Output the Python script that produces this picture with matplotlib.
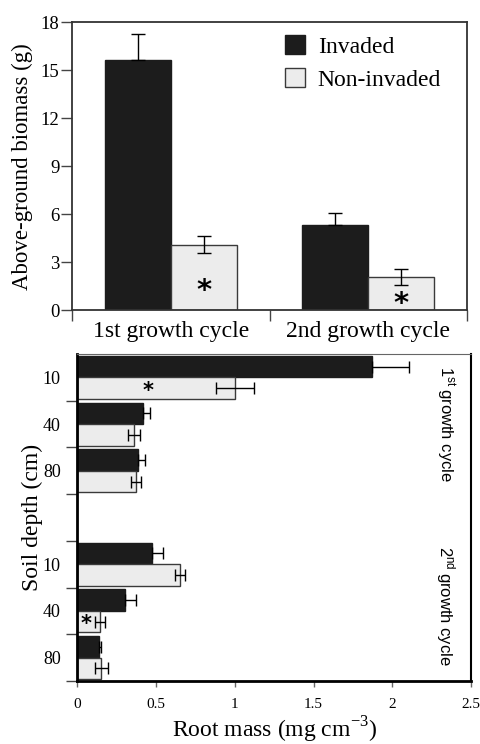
import numpy as np
import matplotlib
matplotlib.use("Agg")
import matplotlib.pyplot as plt

plt.rcParams['font.family'] = ['Liberation Serif', 'DejaVu Serif']
plt.rcParams['mathtext.fontset'] = 'custom'
plt.rcParams['mathtext.rm'] = 'Liberation Serif'
plt.rcParams['mathtext.sf'] = 'Liberation Sans'

# above-ground biomass (g), mean and SE per growth cycle
cycles = ['1st growth cycle', '2nd growth cycle']
agb_inv = [15.67, 5.35]
agb_inv_se = [1.6, 0.75]
agb_non = [4.1, 2.08]
agb_non_se = [0.52, 0.48]

# root mass (mg cm-3) by soil depth
depths = ['10', '40', '80']
root_inv_c1 = [1.87, 0.414, 0.382]
root_inv_c1_se = [0.235, 0.05, 0.05]
root_non_c1 = [1.0, 0.36, 0.373]
root_non_c1_se = [0.12, 0.04, 0.033]
root_inv_c2 = [0.475, 0.304, 0.137]
root_inv_c2_se = [0.07, 0.07, 0.01]
root_non_c2 = [0.652, 0.144, 0.152]
root_non_c2_se = [0.032, 0.032, 0.04]

dark = '#1c1c1c'
light = '#ececec'
edge = '#3a3a3a'

fig = plt.figure(figsize=(4.81, 7.44), dpi=100)

# ---- top panel ----
ax1 = fig.add_axes([0.150, 0.583, 0.821, 0.387])
centers = np.array([0.5, 1.5])
w = 0.335
ekw = dict(elinewidth=1, ecolor='black', capthick=1)
# invaded bars only show the upper half of the error bar
ax1.bar(centers - w/2, agb_inv, w, yerr=[np.zeros(2), agb_inv_se], color=dark,
        edgecolor=dark, linewidth=1, capsize=5, error_kw=ekw, label='Invaded', zorder=2)
ax1.bar(centers + w/2, agb_non, w, yerr=agb_non_se, color=light, edgecolor=edge,
        linewidth=1, capsize=5, error_kw=ekw, label='Non-invaded', zorder=2)
ax1.text(centers[0] + w/2, 1.2, '*', ha='center', va='center', fontsize=21,
         fontweight='bold', family='DejaVu Sans')
ax1.text(centers[1] + w/2, 0.38, '*', ha='center', va='center', fontsize=21,
         fontweight='bold', family='DejaVu Sans')
ax1.set_xlim(0, 2)
ax1.set_ylim(0, 18)
ax1.set_yticks(np.arange(0, 19, 3))
ax1.set_xticks([0, 1, 2])
ax1.set_xticklabels(['', '', ''])
ax1.set_xticks(centers, minor=True)
ax1.set_xticklabels(cycles, minor=True, fontsize=17)
ax1.tick_params(axis='x', which='minor', length=0, pad=8)
ax1.tick_params(axis='x', which='major', length=8, width=1, color='#444444')
ax1.tick_params(axis='y', length=8, width=1, color='#444444', labelsize=13.5, pad=1)
for s in ax1.spines.values():
    s.set_linewidth(1.3)
    s.set_color('#333333')
ax1.set_ylabel('Above-ground biomass (g)', fontsize=16.5, labelpad=6)
ax1.legend(loc='upper left', bbox_to_anchor=(0.538, 0.955), frameon=False,
           fontsize=17, handlelength=0.85, handleheight=0.85, handletextpad=0.55,
           labelspacing=0.45, borderpad=0, borderaxespad=0)

# ---- bottom panel ----
ax2 = fig.add_axes([0.161, 0.0847, 0.818, 0.4395])
h = 0.46
slots_c1 = np.array([0.5, 1.5, 2.5])
slots_c2 = np.array([4.5, 5.5, 6.5])
for slots, inv, inv_se, non, non_se in [
        (slots_c1, root_inv_c1, root_inv_c1_se, root_non_c1, root_non_c1_se),
        (slots_c2, root_inv_c2, root_inv_c2_se, root_non_c2, root_non_c2_se)]:
    ax2.barh(slots - h/2, inv, h, xerr=[np.zeros(3), inv_se], color=dark, edgecolor=dark,
             linewidth=1, capsize=4, error_kw=ekw, zorder=2)
    ax2.barh(slots + h/2, non, h, xerr=non_se, color=light, edgecolor=edge,
             linewidth=1, capsize=4, error_kw=ekw, zorder=2)
ax2.text(0.45, slots_c1[0] + h/2 + 0.06, '*', ha='center', va='center', fontsize=15,
         fontweight='bold', family='DejaVu Sans')
ax2.text(0.053, slots_c2[1] + h/2 + 0.06, '*', ha='center', va='center', fontsize=15,
         fontweight='bold', family='DejaVu Sans')

ax2.set_xlim(0, 2.5)
ax2.set_ylim(7, 0)
ax2.set_xticks(np.arange(0, 2.6, 0.5))
ax2.set_xticklabels(['0', '0.5', '1', '1.5', '2', '2.5'])
ax2.set_yticks([1, 2, 3, 4, 5, 6, 7])
ax2.set_yticklabels([''] * 7)
ax2.set_yticks(np.concatenate([slots_c1, slots_c2]), minor=True)
ax2.set_yticklabels(depths + depths, minor=True, fontsize=13)
ax2.tick_params(axis='y', which='minor', length=0, pad=12)
ax2.tick_params(axis='y', which='major', length=8, width=1, color='#444444')
ax2.tick_params(axis='x', length=4, width=1, color='#666666', labelsize=11, pad=8)
ax2.spines['left'].set_linewidth(2)
ax2.spines['bottom'].set_linewidth(2)
ax2.spines['right'].set_linewidth(1.5)
ax2.spines['top'].set_linewidth(0.8)
ax2.spines['top'].set_color('#666666')
ax2.set_ylabel('Soil depth (cm)', fontsize=17, labelpad=0)
ax2.set_xlabel('Root mass (mg cm$^{-3}$)', fontsize=17, labelpad=3)

ax2.text(2.34, 0.25, r'$\mathsf{1^{st}}$' + '\u2009' + 'growth cycle', rotation=-90,
         ha='center', va='top', fontsize=12, family='Liberation Sans')
ax2.text(2.34, 4.1, r'$\mathsf{2^{nd}}$' + '\u2009' + 'growth cycle', rotation=-90,
         ha='center', va='top', fontsize=12, family='Liberation Sans')

fig.savefig('out.png', dpi=100)
